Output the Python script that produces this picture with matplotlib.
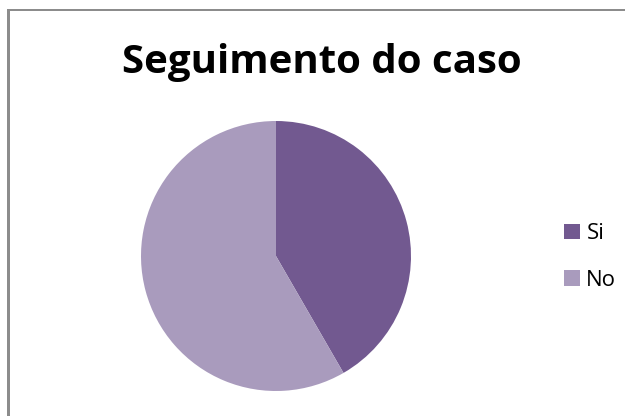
import matplotlib.pyplot as plt
from matplotlib.patches import Rectangle

# data
labels = ["Si", "No"]
values = [5, 7]
colors = ["#725990", "#a99bbd"]
title = "Seguimento do caso"

W, H = 625, 416
fig = plt.figure(figsize=(W / 100, H / 100), dpi=100)
plt.rcParams['font.family'] = ['Open Sans', 'DejaVu Sans']

# chart frame: only top and left edges are visible (pixel coords, y down)
bg = fig.add_axes([0, 0, 1, 1])
bg.set_xlim(0, W)
bg.set_ylim(H, 0)
bg.axis('off')
frame_col = "#8c8c8c"
bg.add_patch(Rectangle((7.4, 8.9), W + 10, 2.2, facecolor=frame_col, edgecolor='none'))
bg.add_patch(Rectangle((7.4, 8.9), 2.2, H + 10, facecolor=frame_col, edgecolor='none'))

cx, cy, r = 276, 256, 135
ax = fig.add_axes([(cx - r) / W, (H - cy - r) / H, 2 * r / W, 2 * r / H])
wedges, _ = ax.pie(values, colors=colors, startangle=90, counterclock=False,
                   radius=1, wedgeprops=dict(linewidth=0))
ax.set_xlim(-1, 1)
ax.set_ylim(-1, 1)
ax.set_aspect('equal')
ax.axis('off')

fig.text(322 / W, 1 - 62 / H, title, ha='center', va='center',
         fontsize=29, fontweight='bold')

leg = fig.legend(wedges, labels, loc='center left',
                 bbox_to_anchor=(553 / W, 1 - 257 / H), frameon=False,
                 fontsize=16, handlelength=0.7, handleheight=0.7,
                 handletextpad=0.3, labelspacing=1.15, borderpad=0)

fig.savefig("out.png", dpi=100)
